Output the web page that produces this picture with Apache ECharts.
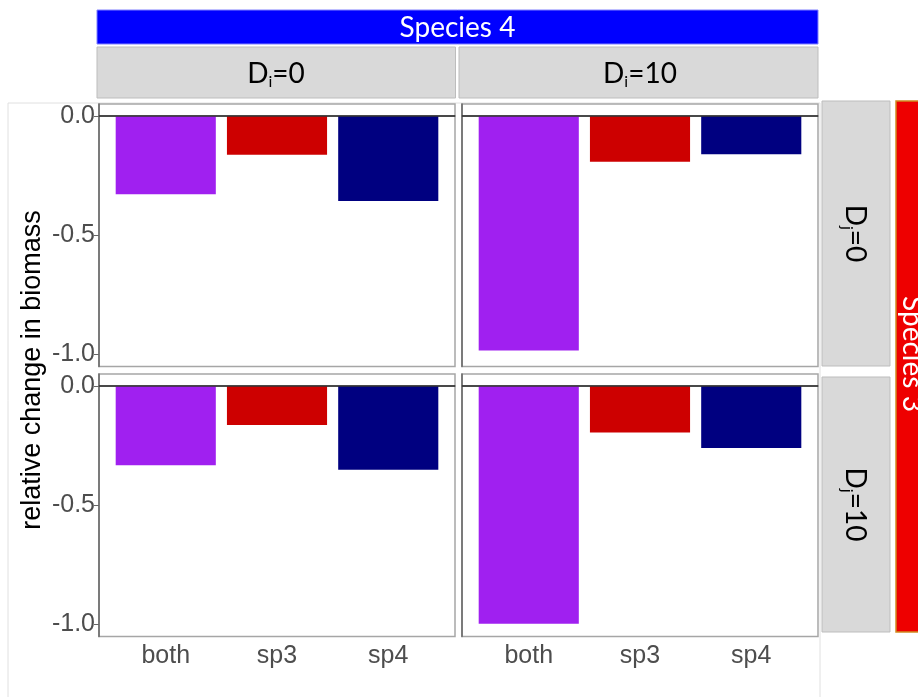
<!DOCTYPE html>
<html>
<head>
<meta charset="utf-8">
<script src="https://cdn.jsdelivr.net/npm/echarts@6/dist/echarts.min.js"></script>
<style>
html,body{margin:0;padding:0;background:#fff;}
#main{width:918px;height:697px;}
</style>
</head>
<body>
<div id="main"></div>
<script>
// ---- data ----
const categories = ['both', 'sp3', 'sp4'];
const barColors = ['#a020f0', '#cd0000', '#000080'];
const colLabels = ['0', '10'];   // Species 4, D_i
const rowLabels = ['0', '10'];   // Species 3, D_j
const valuesTopLeft = [-0.328, -0.163, -0.356];
const valuesTopRight = [-0.983, -0.192, -0.161];
const valuesBottomLeft = [-0.332, -0.164, -0.351];
const valuesBottomRight = [-0.997, -0.195, -0.260];
const yTicks = [-1.0, -0.5, 0.0];
const yTitle = 'relative change in biomass';
const colStripTitle = 'Species 4';
const rowStripTitle = 'Species 3';

// ---- layout ----
const panelX = [99, 462];
const panelW = 356;
const panelY = [104, 374];
const panelH = 262.5;
const xMin = 0.4, xMax = 3.6;
const barW = panelW * 0.9 / (xMax - xMin);

const panels = [
  {r: 0, c: 0, vals: valuesTopLeft},
  {r: 0, c: 1, vals: valuesTopRight},
  {r: 1, c: 0, vals: valuesBottomLeft},
  {r: 1, c: 1, vals: valuesBottomRight}
];

const labelFont = '"Liberation Sans", Arial, sans-serif';
const stripFont = 'Lato, "Open Sans", sans-serif';

const grid = [], xAxis = [], yAxis = [], series = [];
panels.forEach((p, i) => {
  grid.push({
    left: panelX[p.c], top: panelY[p.r], width: panelW, height: panelH,
    show: true, borderColor: '#a6a6a6', borderWidth: 1.5, backgroundColor: '#fff'
  });
  const showX = p.r === 1, showY = p.c === 0;
  xAxis.push({
    type: 'value', gridIndex: i, min: xMin, max: xMax,
    splitLine: {show: false},
    axisLine: {show: true, lineStyle: {color: '#666', width: 1.5}},
    axisTick: {show: showX, customValues: [1, 2, 3], length: 4, lineStyle: {color: '#666'}},
    axisLabel: {show: showX, customValues: [1, 2, 3], formatter: v => categories[Math.round(v) - 1],
      color: '#4d4d4d', fontSize: 25, fontFamily: labelFont, margin: 7}
  });
  yAxis.push({
    type: 'value', gridIndex: i, min: -1.05, max: 0.05,
    splitLine: {show: false},
    axisLine: {show: true, lineStyle: {color: '#666', width: 1.5}},
    axisTick: {show: showY, customValues: yTicks, length: 5, lineStyle: {color: '#666'}},
    axisLabel: {show: showY, customValues: yTicks, formatter: v => v.toFixed(1),
      color: '#4d4d4d', fontSize: 25, fontFamily: labelFont, margin: 4}
  });
  series.push({
    type: 'bar', xAxisIndex: i, yAxisIndex: i, barWidth: barW,
    data: p.vals.map((v, k) => ({value: [k + 1, v], itemStyle: {color: barColors[k]}})),
    silent: true,
    markLine: {
      silent: true, symbol: ['none', 'none'], label: {show: false},
      lineStyle: {color: '#333', width: 1.5, type: 'solid'},
      data: [{yAxis: 0}]
    }
  });
});

// strips (decoration)
const subStyle = {fontSize: 16, padding: [16, 0, 0, 0], fontFamily: stripFont, color: '#111'};
const mainStyle = {fontSize: 28, fontFamily: stripFont, color: '#111'};
const graphic = [
  {type: 'rect', z: -10, shape: {x: 8, y: 103, width: 812, height: 600}, style: {fill: '#fff', stroke: '#e0e0e0', lineWidth: 1}},
  {type: 'rect', shape: {x: 97, y: 10, width: 721, height: 34}, style: {fill: '#0000ff', stroke: '#8080ff', lineWidth: 1}},
  {type: 'text', x: 457.5, y: 28, style: {text: colStripTitle, fill: '#fff', font: '28px ' + stripFont, textAlign: 'center', textVerticalAlign: 'middle'}},
  {type: 'rect', shape: {x: 97, y: 47, width: 358.5, height: 51}, style: {fill: '#d9d9d9', stroke: '#bdbdbd', lineWidth: 1}},
  {type: 'rect', shape: {x: 459, y: 47, width: 359, height: 51}, style: {fill: '#d9d9d9', stroke: '#bdbdbd', lineWidth: 1}},
  {type: 'rect', shape: {x: 822, y: 101, width: 68, height: 265}, style: {fill: '#d9d9d9', stroke: '#bdbdbd', lineWidth: 1}},
  {type: 'rect', shape: {x: 822, y: 377, width: 68, height: 255}, style: {fill: '#d9d9d9', stroke: '#bdbdbd', lineWidth: 1}},
  {type: 'rect', shape: {x: 896, y: 101, width: 40, height: 531}, style: {fill: '#ee0000', stroke: '#d08a20', lineWidth: 1.5}},
  {type: 'text', x: 912, y: 354, rotation: -Math.PI / 2, style: {text: rowStripTitle, fill: '#fff', font: '28px ' + stripFont, textAlign: 'center', textVerticalAlign: 'middle'}},
  {type: 'text', x: 33, y: 370, rotation: Math.PI / 2, style: {text: yTitle, fill: '#000', font: '27px ' + labelFont, textAlign: 'center', textVerticalAlign: 'middle'}}
];
const colCenters = [276, 640];
colLabels.forEach((l, c) => {
  graphic.push({type: 'text', x: colCenters[c], y: 74, style: {
    text: '{m|D}{sub|i}{m|=' + l + '}', rich: {m: mainStyle, sub: subStyle},
    textAlign: 'center', textVerticalAlign: 'middle'}});
});
const rowCenters = [233.5, 504.5];
rowLabels.forEach((l, r) => {
  graphic.push({type: 'text', x: 855, y: rowCenters[r], rotation: -Math.PI / 2, style: {
    text: '{m|D}{sub|j}{m|=' + l + '}', rich: {m: mainStyle, sub: subStyle},
    textAlign: 'center', textVerticalAlign: 'middle'}});
});

const chart = echarts.init(document.getElementById('main'), null, {renderer: 'canvas'});
chart.setOption({
  animation: false,
  backgroundColor: '#fff',
  grid, xAxis, yAxis, series, graphic
});
</script>
</body>
</html>
